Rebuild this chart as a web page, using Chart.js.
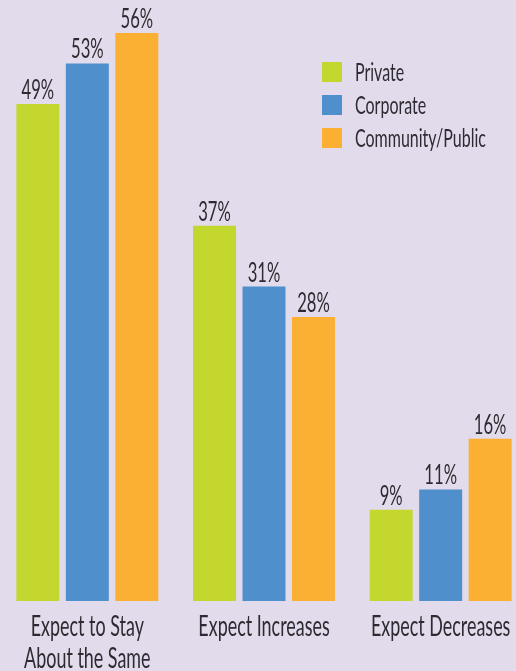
<!DOCTYPE html>
<html lang="en">
<head>
    <meta charset="UTF-8">
    <title>Expectations Chart</title>
    <script src="https://cdn.jsdelivr.net/npm/chart.js"></script>
    <style>
        html, body { margin: 0; padding: 0; background: #e2dbeb; overflow: hidden; }
        #wrap { position: relative; width: 530px; height: 671px; margin-left: -1px; }
    </style>
</head>
<body>
    <div id="wrap"><canvas id="expectChart"></canvas></div>
    <script>
        const categories = [['Expect to Stay', 'About the Same'], ['Expect Increases'], ['Expect Decreases']];
        const seriesNames = ['Private', 'Corporate', 'Community/Public'];
        const privateVals = [49, 37, 9];
        const corporateVals = [53, 31, 11];
        const communityVals = [56, 28, 16];
        const colors = ['#c3d72e', '#4f8fcc', '#fbb034'];

        const FONT = "Lato, 'DejaVu Sans', sans-serif";
        const TEXT = '#2e2a31';
        const SQUEEZE = 0.64; // the original uses a condensed face

        // draw horizontally condensed text
        function narrowText(ctx, txt, x, y, align) {
            ctx.save();
            ctx.translate(x, y);
            ctx.scale(SQUEEZE, 1);
            ctx.textAlign = align;
            ctx.fillText(txt, 0, 0);
            ctx.restore();
        }

        const textLayer = {
            id: 'textLayer',
            afterDraw(chart) {
                const ctx = chart.ctx;
                ctx.save();
                ctx.fillStyle = TEXT;
                ctx.textBaseline = 'alphabetic';

                // values over bars
                ctx.font = '26px ' + FONT;
                chart.data.datasets.forEach((ds, i) => {
                    chart.getDatasetMeta(i).data.forEach((bar, j) => {
                        narrowText(ctx, ds.data[j] + '%', bar.x, bar.y - 5, 'center');
                    });
                });

                // category labels under the groups
                const xs = chart.scales.x;
                ctx.font = '28px ' + FONT;
                chart.data.labels.forEach((lines, i) => {
                    const cx = xs.getPixelForValue(i);
                    lines.forEach((ln, k) => {
                        narrowText(ctx, ln, cx, xs.top + 35 + k * 32, 'center');
                    });
                });

                // legend, top right inside the plot
                ctx.font = '25px ' + FONT;
                chart.data.datasets.forEach((ds, i) => {
                    const y = 62 + i * 33;
                    ctx.fillStyle = ds.backgroundColor;
                    ctx.fillRect(323, y, 20, 20);
                    ctx.fillStyle = TEXT;
                    narrowText(ctx, ds.label, 356, y + 19, 'left');
                });
                ctx.restore();
            }
        };

        const ctx = document.getElementById('expectChart').getContext('2d');
        new Chart(ctx, {
            type: 'bar',
            data: {
                labels: categories,
                datasets: [
                    { label: seriesNames[0], data: privateVals, backgroundColor: colors[0] },
                    { label: seriesNames[1], data: corporateVals, backgroundColor: colors[1] },
                    { label: seriesNames[2], data: communityVals, backgroundColor: colors[2] }
                ]
            },
            options: {
                responsive: true,
                maintainAspectRatio: false,
                animation: false,
                layout: { padding: 0 },
                categoryPercentage: 0.84,
                barPercentage: 0.869,
                plugins: {
                    legend: { display: false },
                    tooltip: { enabled: false }
                },
                scales: {
                    x: {
                        grid: { display: false },
                        border: { display: false },
                        ticks: { display: false },
                        afterFit(scale) { scale.height = 70; }
                    },
                    y: {
                        display: false,
                        min: 0,
                        max: 59.25
                    }
                }
            },
            plugins: [textLayer]
        });
    </script>
</body>
</html>
